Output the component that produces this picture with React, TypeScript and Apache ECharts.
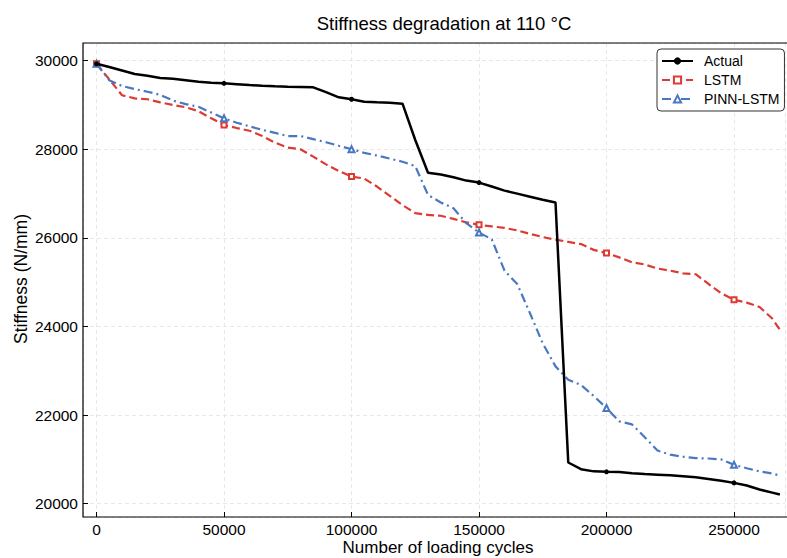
import React, { useEffect, useRef } from "react";
import * as echarts from "echarts";

const cycles = [
  0, 5000, 10000, 15000, 20000, 25000, 30000, 35000, 40000, 45000,
  50000, 55000, 60000, 65000, 70000, 75000, 80000, 85000, 90000, 95000,
  100000, 105000, 110000, 115000, 120000, 125000, 130000, 135000, 140000, 145000,
  150000, 155000, 160000, 165000, 170000, 175000, 180000, 185000, 190000, 195000,
  200000, 205000, 210000, 215000, 220000, 225000, 230000, 235000, 240000, 245000,
  250000, 255000, 260000, 265000, 268000,
];

const actual = [
  29930, 29860, 29780, 29700, 29660, 29610, 29594, 29560, 29526, 29505,
  29490, 29470, 29450, 29436, 29425, 29415, 29408, 29400, 29290, 29174,
  29130, 29075, 29060, 29050, 29030, 28210, 27470, 27430, 27370, 27294,
  27249, 27160, 27068, 27000, 26930, 26860, 26800, 20930, 20780, 20730,
  20720, 20718, 20690, 20670, 20655, 20640, 20620, 20595, 20560, 20520,
  20470, 20410, 20320, 20250, 20206,
];

const lstm = [
  29930, 29580, 29220, 29150, 29130, 29060, 29000, 28950, 28860, 28700,
  28550, 28480, 28420, 28300, 28150, 28040, 28000, 27835, 27660, 27510,
  27384, 27340, 27160, 26950, 26740, 26560, 26520, 26500, 26430, 26350,
  26295, 26260, 26225, 26170, 26090, 26020, 25960, 25910, 25860, 25730,
  25657, 25560, 25450, 25400, 25310, 25260, 25200, 25180, 24960, 24750,
  24604, 24540, 24440, 24180, 23927,
];

const pinn = [
  29930, 29560, 29430, 29360, 29300, 29230, 29100, 29020, 28960, 28830,
  28700, 28600, 28520, 28440, 28370, 28300, 28300, 28230, 28160, 28080,
  28002, 27920, 27860, 27790, 27720, 27620, 26970, 26800, 26670, 26333,
  26122, 25970, 25260, 24960, 24300, 23620, 23100, 22800, 22680, 22430,
  22162, 21860, 21790, 21500, 21200, 21108, 21060, 21030, 21020, 21000,
  20880, 20800, 20730, 20680, 20635,
];

const seriesNames = ["Actual", "LSTM", "PINN-LSTM"];
const xTicks = [0, 50000, 100000, 150000, 200000, 250000];
const yTicks = [20000, 22000, 24000, 26000, 28000, 30000];
const xTitle = "Number of loading cycles";
const yTitle = "Stiffness (N/mm)";

const FONT = "'Liberation Sans', Arial, Helvetica, sans-serif";

function buildData(vals: number[]) {
  return vals.map((v, i) => {
    const item: any = { value: [cycles[i], v] };
    if (i % 10 !== 0) item.symbol = "none";
    return item;
  });
}

export default function App() {
  const ref = useRef<HTMLDivElement>(null);
  useEffect(() => {
    if (!ref.current) return;
    const chart = echarts.init(ref.current, null, { renderer: "svg" });
    const gridLine = { show: true, lineStyle: { color: "#e2e2e2", type: [4, 3], width: 0.8 } };
    const G = { left: 83, top: 43, width: 702, height: 474 };
    chart.setOption({
      animation: false,
      backgroundColor: "#ffffff",
      title: {
        text: "Stiffness degradation at 110 °C",
        left: 439,
        textAlign: "center",
        top: 9,
        textStyle: { fontFamily: FONT, fontSize: 18.5, fontWeight: "normal", color: "#000" },
      },
      legend: {
        data: seriesNames,
        orient: "vertical",
        left: 657,
        top: 49,
        padding: [5, 5, 5, 4],
        itemWidth: 31,
        itemHeight: 9,
        itemGap: 5,
        backgroundColor: "#fff",
        borderColor: "#333",
        borderWidth: 1,
        borderRadius: 4,
        textStyle: { fontFamily: FONT, fontSize: 14, color: "#000", padding: [0, 0, 0, 6], lineHeight: 14 },
        z: 10,
      },
      grid: { ...G, show: false, containLabel: false, outerBoundsMode: "none" },
      graphic: [
        {
          type: "rect",
          shape: { x: G.left, y: G.top, width: 740, height: G.height },
          style: { fill: "none", stroke: "#000", lineWidth: 1.2 },
          z: 5,
          silent: true,
        },
        {
          type: "text",
          x: 438,
          y: 547,
          silent: true,
          style: {
            text: xTitle,
            fill: "#000",
            fontFamily: FONT,
            fontSize: 17,
            align: "center",
            verticalAlign: "middle",
          },
        },
        {
          type: "text",
          x: 21,
          y: 279,
          rotation: Math.PI / 2,
          silent: true,
          style: {
            text: yTitle,
            fill: "#000",
            fontFamily: FONT,
            fontSize: 17.5,
            align: "center",
            verticalAlign: "middle",
          },
        },
      ],
      xAxis: {
        type: "value",
        min: -5300,
        max: 270000,
        axisLine: { show: false, onZero: false },
        axisTick: { show: true, inside: true, length: 5, lineStyle: { color: "#000" } },
        axisLabel: {
          fontFamily: FONT,
          fontSize: 15.5,
          color: "#000",
          margin: 4,
          showMinLabel: false,
          showMaxLabel: false,
          formatter: (v: number) => (xTicks.includes(v) ? String(v) : ""),
        },
        splitLine: gridLine,
      },
      yAxis: {
        type: "value",
        min: 19700,
        max: 30400,
        axisLine: { show: false, onZero: false },
        axisTick: { show: true, inside: true, length: 5, lineStyle: { color: "#000" } },
        axisLabel: {
          fontFamily: FONT,
          fontSize: 15.5,
          color: "#000",
          margin: 5,
          showMinLabel: false,
          showMaxLabel: false,
          formatter: (v: number) => (yTicks.includes(v) ? String(v) : ""),
        },
        splitLine: gridLine,
      },
      series: [
        {
          name: "Actual",
          type: "line",
          data: buildData(actual),
          symbol: "circle",
          symbolSize: 5,
          showSymbol: true,
          itemStyle: { color: "#000" },
          lineStyle: { color: "#000", width: 2.5 },
          z: 4,
        },
        {
          name: "LSTM",
          type: "line",
          data: buildData(lstm),
          symbol: "emptyRect",
          symbolSize: 5,
          showSymbol: true,
          itemStyle: { color: "#dc3a32", borderWidth: 1.2 },
          lineStyle: { color: "#dc3a32", width: 2.2, type: [8, 4] },
          z: 3,
        },
        {
          name: "PINN-LSTM",
          type: "line",
          data: buildData(pinn),
          symbol: "emptyTriangle",
          symbolSize: 6,
          showSymbol: true,
          itemStyle: { color: "#4a78c0", borderWidth: 1.2 },
          lineStyle: { color: "#4a78c0", width: 2.2, type: [9, 4, 2, 4] },
          z: 3,
        },
      ],
    });
    return () => chart.dispose();
  }, []);
  return <div ref={ref} style={{ width: 787, height: 558, position: "absolute", left: 0, top: 0 }} />;
}
